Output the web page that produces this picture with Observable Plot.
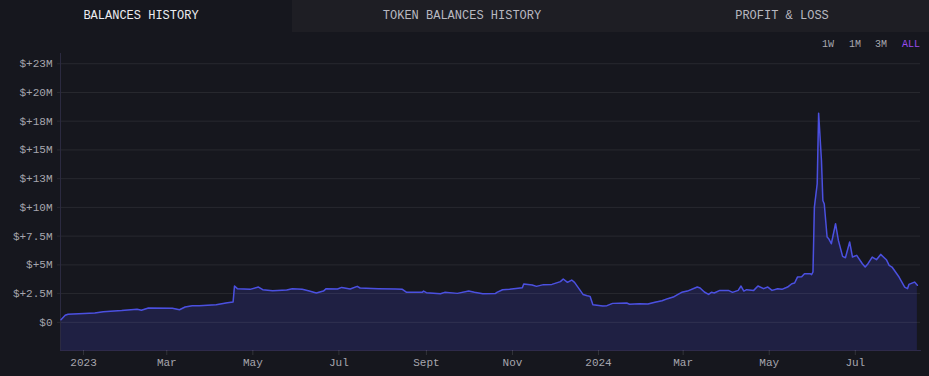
<!DOCTYPE html>
<html><head><meta charset="utf-8">
<script src="https://cdn.jsdelivr.net/npm/d3@7"></script>
<script src="https://cdn.jsdelivr.net/npm/@observablehq/plot@0.6"></script>
<style>
html,body{margin:0;padding:0;background:#16171e;width:929px;height:376px;overflow:hidden;font-family:"Liberation Mono","DejaVu Sans Mono",monospace;}
#tabs{position:absolute;left:0;top:0;width:929px;height:32px;background:#1e1e24;}
#tab0{position:absolute;left:0;top:0;width:292px;height:32px;background:#16171e;}
.lbl{position:absolute;top:0;height:32px;line-height:32px;font-size:12px;color:#b8b8c0;transform:translateX(-50%);white-space:nowrap;}
.lbl.active{color:#ececf0;}
.rng{position:absolute;top:39px;font-size:10px;line-height:12px;color:#a8a8b0;transform:translateX(-50%);}
.rng.on{color:#9b4cf0;}
#chart{position:absolute;left:0;top:40px;}
</style></head>
<body>
<div id="tabs"><div id="tab0"></div></div>
<div id="ranges"></div>
<div id="chart"></div>
<script>
const tabs = ["BALANCES HISTORY", "TOKEN BALANCES HISTORY", "PROFIT & LOSS"];
const ranges = ["1W", "1M", "3M", "ALL"];
const yTicks = [0, 2.5, 5, 7.5, 10, 12.5, 15, 17.5, 20, 22.5];
const yLabels = ["$0", "$+2.5M", "$+5M", "$+7.5M", "$+10M", "$+13M", "$+15M", "$+18M", "$+20M", "$+23M"];
const xTickDates = ["2023-01-01","2023-03-01","2023-05-01","2023-07-01","2023-09-01","2023-11-01","2024-01-01","2024-03-01","2024-05-01","2024-07-01"];
const xLabels = ["2023","Mar","May","Jul","Sept","Nov","2024","Mar","May","Jul"];

const dates = ["2022-12-16","2022-12-19","2022-12-21","2023-01-09","2023-01-15","2023-01-28","2023-02-08","2023-02-11","2023-02-16","2023-03-05","2023-03-10","2023-03-14","2023-03-19","2023-03-24","2023-04-05","2023-04-13","2023-04-17","2023-04-18","2023-04-20","2023-04-29","2023-05-05","2023-05-08","2023-05-15","2023-05-25","2023-05-29","2023-06-05","2023-06-10","2023-06-15","2023-06-20","2023-06-22","2023-06-30","2023-07-03","2023-07-09","2023-07-14","2023-07-16","2023-07-29","2023-08-10","2023-08-15","2023-08-18","2023-08-29","2023-08-30","2023-09-01","2023-09-11","2023-09-14","2023-09-23","2023-10-01","2023-10-05","2023-10-11","2023-10-20","2023-10-21","2023-10-25","2023-10-30","2023-11-08","2023-11-09","2023-11-15","2023-11-18","2023-11-23","2023-11-29","2023-12-05","2023-12-07","2023-12-10","2023-12-13","2023-12-15","2023-12-17","2023-12-21","2023-12-24","2023-12-26","2023-12-28","2024-01-04","2024-01-07","2024-01-11","2024-01-21","2024-01-23","2024-01-30","2024-02-05","2024-02-10","2024-02-15","2024-02-19","2024-02-23","2024-02-26","2024-02-29","2024-03-04","2024-03-11","2024-03-13","2024-03-16","2024-03-19","2024-03-21","2024-03-23","2024-03-27","2024-04-02","2024-04-05","2024-04-09","2024-04-11","2024-04-13","2024-04-15","2024-04-20","2024-04-23","2024-04-27","2024-04-30","2024-05-03","2024-05-07","2024-05-10","2024-05-14","2024-05-17","2024-05-19","2024-05-21","2024-05-24","2024-05-26","2024-05-30","2024-05-31","2024-06-01","2024-06-02","2024-06-04","2024-06-05","2024-06-07","2024-06-08","2024-06-09","2024-06-11","2024-06-12","2024-06-14","2024-06-17","2024-06-19","2024-06-22","2024-06-24","2024-06-27","2024-06-29","2024-07-02","2024-07-06","2024-07-08","2024-07-10","2024-07-13","2024-07-16","2024-07-19","2024-07-23","2024-07-25","2024-07-27","2024-08-01","2024-08-05","2024-08-07","2024-08-08","2024-08-12","2024-08-14"];
const balances = [0.23,0.61,0.70,0.81,0.93,1.02,1.13,1.05,1.25,1.22,1.10,1.33,1.45,1.45,1.54,1.71,1.77,3.16,2.93,2.87,3.07,2.84,2.75,2.81,2.93,2.87,2.72,2.55,2.72,2.93,2.90,3.04,2.90,3.13,2.99,2.93,2.90,2.87,2.61,2.61,2.72,2.58,2.49,2.61,2.52,2.72,2.61,2.49,2.52,2.61,2.84,2.87,3.01,3.33,3.25,3.13,3.28,3.30,3.54,3.77,3.48,3.68,3.48,3.13,2.43,2.32,2.26,1.54,1.42,1.45,1.65,1.68,1.57,1.62,1.59,1.74,1.88,2.06,2.20,2.41,2.61,2.72,3.07,2.99,2.64,2.43,2.61,2.55,2.78,2.78,2.61,2.78,3.16,2.72,2.84,2.78,3.16,2.93,3.07,2.78,2.93,2.87,3.07,3.36,3.42,3.94,3.97,4.23,4.23,4.15,4.38,10.03,12.06,18.2,14.1,10.6,10.3,7.42,7.3,6.84,8.58,7.13,5.74,5.62,6.99,5.68,5.83,5.10,4.81,5.10,5.68,5.45,5.91,5.45,4.96,4.81,3.94,3.07,2.93,3.30,3.50,3.22];

// header
const tabCenters = [141, 462, 782];
const tabsEl = document.getElementById("tabs");
tabs.forEach((t, i) => {
  const s = document.createElement("span");
  s.className = "lbl" + (i === 0 ? " active" : "");
  s.style.left = tabCenters[i] + "px";
  s.textContent = t;
  tabsEl.appendChild(s);
});
const rangeCenters = [828, 855, 881, 911];
const rEl = document.getElementById("ranges");
ranges.forEach((r, i) => {
  const s = document.createElement("span");
  s.className = "rng" + (r === "ALL" ? " on" : "");
  s.style.left = rangeCenters[i] + "px";
  s.textContent = r;
  rEl.appendChild(s);
});

const data = dates.map((d, i) => ({date: new Date(d + "T00:00:00Z"), value: balances[i]}));
const yMin = -2.45, yMax = 23.39;
const xTicks = xTickDates.map(d => new Date(d + "T00:00:00Z"));
const yLabelMap = new Map(yTicks.map((v, i) => [v, yLabels[i]]));
const xLabelMap = new Map(xTicks.map((d, i) => [+d, xLabels[i]]));

const chart = Plot.plot({
  width: 929,
  height: 336,
  marginTop: 13,
  marginBottom: 26,
  marginLeft: 60,
  marginRight: 9,
  style: {background: "transparent", color: "#a6a6ae", fontFamily: "Liberation Mono, DejaVu Sans Mono, monospace", fontSize: "11px"},
  x: {type: "utc", domain: [new Date(Date.UTC(2022, 11, 15, 16)), new Date(Date.UTC(2024, 7, 16, 5))]},
  y: {domain: [yMin, yMax]},
  marks: [
    Plot.areaY(data, {x: "date", y1: yMin, y2: "value", fill: "#1f2043"}),
    Plot.ruleY(yTicks, {stroke: "#ffffff", strokeOpacity: 0.08}),
    Plot.axisY({ticks: yTicks, tickFormat: d => yLabelMap.get(d), tickSize: 3, tickPadding: 5, stroke: "#ffffff", strokeOpacity: 0.08, label: null}),
    Plot.frame({anchor: "left", stroke: "#2b2a40"}),
    Plot.frame({anchor: "bottom", stroke: "#2e2a4a"}),
    Plot.lineY(data, {x: "date", y: "value", stroke: "#4b50e0", strokeWidth: 1.5}),
    Plot.axisX({ticks: xTicks, tickFormat: d => xLabelMap.get(+d), tickSize: 5, tickPadding: 3, stroke: "#ffffff", strokeOpacity: 0.12, label: null})
  ]
});
document.getElementById("chart").appendChild(chart);
</script>
</body></html>
